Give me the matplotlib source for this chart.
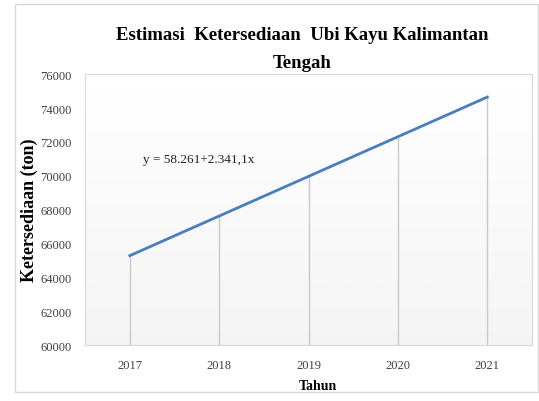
import matplotlib.pyplot as plt
import numpy as np
from matplotlib.patches import Rectangle

tahun = ['2017', '2018', '2019', '2020', '2021']
ketersediaan = [65284, 67625, 69966, 72307, 74648]
persamaan = 'y = 58.261+2.341,1x'

plt.rcParams['font.family'] = 'Liberation Serif'

fig = plt.figure(figsize=(5.39, 4.02), dpi=100)
# bingkai luar grafik
fig.patches.append(Rectangle((15 / 539, 0.022), 0.97, 0.965, transform=fig.transFigure,
                             fill=False, edgecolor='#d9d9d9', lw=1))

ax = fig.add_axes([0.158, 0.139, 0.829, 0.674])
ind = np.arange(len(tahun))

# latar area plot bergradasi, putih di atas ke abu-abu muda di bawah
grad = np.linspace(0.0, 0.09, 256).reshape(-1, 1)
ax.imshow(grad, cmap='Greys', vmin=0, vmax=1, aspect='auto',
          extent=(-0.5, 4.5, 60000, 76000), zorder=0)

ax.vlines(ind, 60000, ketersediaan, color='#c9c9c9', lw=1, zorder=1)
ax.plot(ind, ketersediaan, color='#4a7ebb', lw=2, zorder=3)

ax.set_xlim(-0.5, 4.5)
ax.set_ylim(60000, 76000)
ax.set_xticks(ind, tahun)
ax.set_yticks(np.arange(60000, 76001, 2000))
ax.tick_params(length=0, labelsize=9, colors='#404040', pad=10)
for s in ax.spines.values():
    s.set_color('#d9d9d9')
    s.set_linewidth(0.8)

ax.text(0.15, 71000, persamaan, fontsize=9.5, color='#222222', va='center')
ax.set_ylabel('Ketersediaan (ton)', fontsize=13, fontweight='bold')
ax.yaxis.set_label_coords(-0.105, 0.5)
ax.set_xlabel('Tahun', fontsize=10, fontweight='bold')
ax.xaxis.set_label_coords(0.52, -0.125)
fig.text(0.561, 0.877, 'Estimasi  Ketersediaan  Ubi Kayu Kalimantan\nTengah',
         ha='center', va='center', fontsize=13.5, fontweight='bold', linespacing=1.9)

fig.savefig('out.png', dpi=100)
